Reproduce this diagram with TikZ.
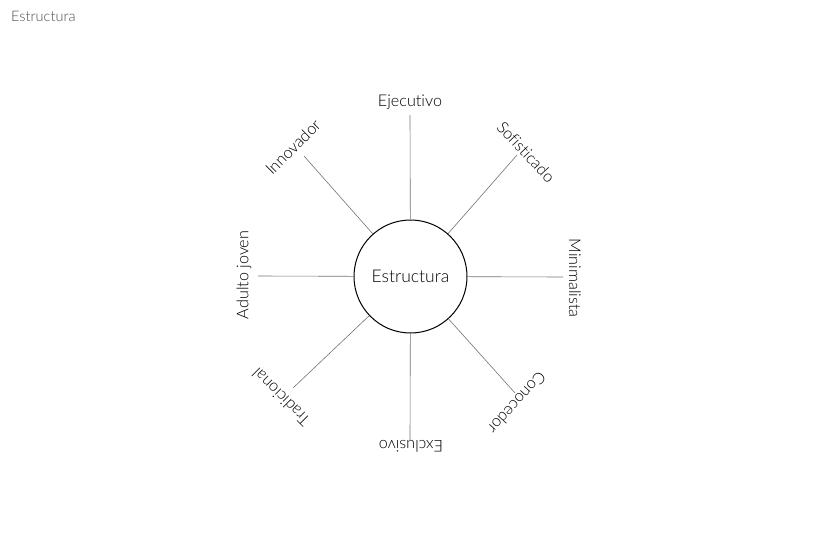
\documentclass[tikz,border=0pt]{standalone}
\usepackage{fontspec}
\setmainfont{Lato}[UprightFont={* Light},Ligatures={NoCommon}]
\begin{document}
\begin{tikzpicture}[x=1pt,y=-1pt,
  ray/.style={draw=black!55,line width=0.6pt},
  lbl/.style={font=\fontsize{16.2}{18}\selectfont,inner sep=0pt,anchor=center},
  hub/.style={circle,draw=black,line width=1pt,minimum size=113pt,inner sep=0pt,font=\fontsize{17.5}{19}\selectfont}]
\useasboundingbox (0,0) rectangle (820,554);
\node[anchor=west,text=black!70,font=\fontsize{14.5}{16}\selectfont,inner sep=0pt] (title) at (11,16) {Estructura};
\node[hub] (c) at (410.5,276.5) {Estructura};
% outer ends
\coordinate (eN) at (410,115);
\coordinate (eS) at (410,440);
\coordinate (eW) at (258,276);
\coordinate (eE) at (563,277);
\coordinate (eNW) at (304,156);
\coordinate (eNE) at (517,155);
\coordinate (eSW) at (293,388);
\coordinate (eSE) at (515,393);
\foreach \e in {eN,eS,eW,eE,eNW,eNE,eSW,eSE} \draw[ray] (c) -- (\e);
% labels
\node[lbl] (lN) at (410,102) {Ejecutivo};
\node[lbl,rotate=180] (lS) at (411,446) {Exclusivo};
\node[lbl,rotate=90] (lW) at (244,275) {Adulto joven};
\node[lbl,rotate=-90] (lE) at (575,278) {Minimalista};
\node[lbl,rotate=45] (lNW) at (293,147) {Innovador};
\node[lbl,rotate=-47] (lNE) at (526,152) {Sofisticado};
\node[lbl,rotate=135] (lSW) at (281,397) {Tradicional};
\node[lbl,rotate=-132] (lSE) at (517,403) {Conocedor};
\end{tikzpicture}
\end{document}
